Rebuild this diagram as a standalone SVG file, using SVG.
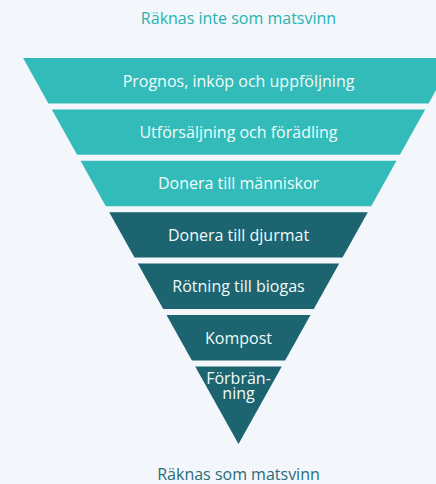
<svg xmlns="http://www.w3.org/2000/svg" width="436" height="484" viewBox="0 0 436 484">
  <style>
    .bg { fill: #F3F7FC; }
    .light { fill: #33BBB9; }
    .dark { fill: #1B6470; }
    text { font-family: "Open Sans", "Liberation Sans", sans-serif; font-size: 16px; text-anchor: middle; }
    .lbl { fill: #F2FBFB; }
    .top { fill: #27B2AD; }
    .bottom { fill: #2A6C77; }
  </style>
  <rect class="bg" x="0" y="0" width="436" height="484"/>
  <text class="top" x="238.5" y="24.3">Räknas inte som matsvinn</text>
  <g id="prognos">
    <polygon class="light" points="23.1,58 453.9,58 428.6,103.4 48.4,103.4"/>
    <text class="lbl" x="238.5" y="86.5">Prognos, inköp och uppföljning</text>
  </g>
  <g id="utforsaljning">
    <polygon class="light" points="51.8,109.4 425.2,109.4 399.9,154.8 77.1,154.8"/>
    <text class="lbl" x="238.5" y="138">Utförsäljning och förädling</text>
  </g>
  <g id="donera-manniskor">
    <polygon class="light" points="80.5,160.8 396.5,160.8 371.2,206.2 105.8,206.2"/>
    <text class="lbl" x="238.5" y="189.4">Donera till människor</text>
  </g>
  <g id="donera-djurmat">
    <polygon class="dark" points="109.2,212.2 367.8,212.2 342.5,257.6 134.5,257.6"/>
    <text class="lbl" x="238.5" y="240.8">Donera till djurmat</text>
  </g>
  <g id="rotning">
    <polygon class="dark" points="137.8,263.6 339.2,263.6 313.8,309 163.2,309"/>
    <text class="lbl" x="238.5" y="292.2">Rötning till biogas</text>
  </g>
  <g id="kompost">
    <polygon class="dark" points="166.5,315 310.5,315 285.1,360.4 191.9,360.4"/>
    <text class="lbl" x="238.5" y="343.8">Kompost</text>
  </g>
  <g id="forbranning">
    <polygon class="dark" points="195.2,366.4 281.8,366.4 238.5,444"/>
    <text class="lbl" x="238.5" y="384"><tspan x="238.5" y="384">Förbrän-</tspan><tspan x="238.5" y="398.5">ning</tspan></text>
  </g>
  <text class="bottom" x="238.5" y="480">Räknas som matsvinn</text>
</svg>
